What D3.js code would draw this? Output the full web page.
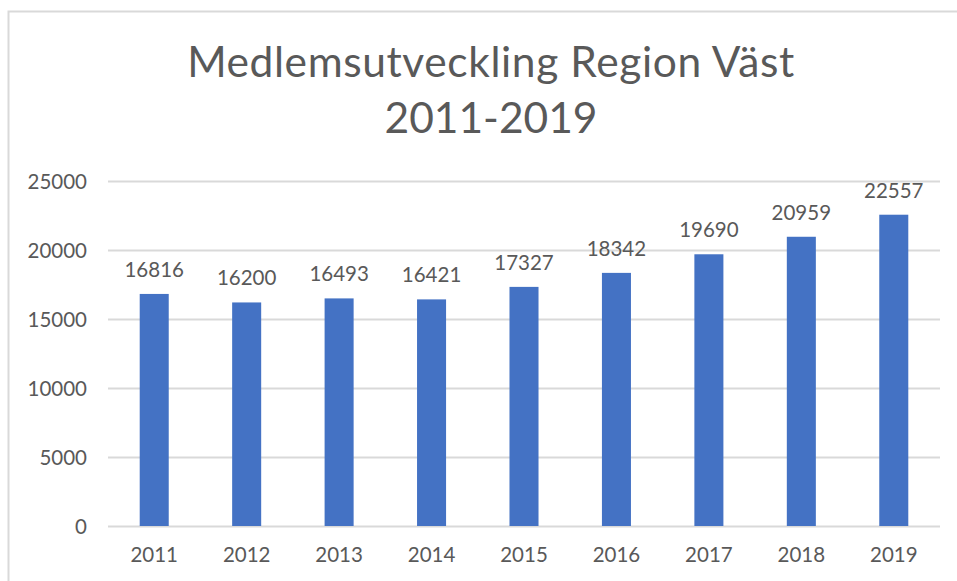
<!DOCTYPE html>
<html>
<head>
<meta charset="utf-8">
<script src="https://cdn.jsdelivr.net/npm/d3@7"></script>
<style>
    body { margin: 0; background: #fff; }
    svg text { font-family: Lato, "Open Sans", sans-serif; fill: #595959; }
</style>
</head>
<body>
<div id="chart"></div>
<script>
// data
let years = ['2011', '2012', '2013', '2014', '2015', '2016', '2017', '2018', '2019'];
let members = [16816, 16200, 16493, 16421, 17327, 18342, 19690, 20959, 22557];
let yTicks = [0, 5000, 10000, 15000, 20000, 25000];
let titleLines = ['Medlemsutveckling Region Väst', '2011-2019'];

let width = 957;
let height = 581;
let plot = {left: 108, right: 940, top: 181, bottom: 526};

let svg = d3.select('#chart').append('svg')
    .attr('width', width)
    .attr('height', height);

// chart border (only top and left are visible in the picture)
svg.append('rect')
    .attr('x', 8.5)
    .attr('y', 11.5)
    .attr('width', width + 20)
    .attr('height', height + 20)
    .attr('fill', '#fff')
    .attr('stroke', '#d9d9d9')
    .attr('stroke-width', 2);

// title
svg.append('g')
    .selectAll('text')
    .data(titleLines)
    .enter().append('text')
    .attr('x', 491)
    .attr('y', function (d, i) { return 77 + i * 56; })
    .attr('text-anchor', 'middle')
    .style('font-size', '42.5px')
    .style('letter-spacing', function (d, i) { return i === 0 ? '0.6px' : '0px'; })
    .text(function (d) { return d; });

let x = d3.scaleBand()
    .domain(years)
    .range([plot.left, plot.right])
    .paddingInner(0.686)
    .paddingOuter(0.343);

let y = d3.scaleLinear()
    .domain([0, 25000])
    .range([plot.bottom, plot.top]);

// gridlines + y labels
let yAxis = svg.append('g')
    .attr('transform', 'translate(' + plot.left + ',0)')
    .call(d3.axisLeft(y)
        .tickValues(yTicks)
        .tickFormat(d3.format('d'))
        .tickSize(-(plot.right - plot.left))
        .tickPadding(21));
yAxis.select('.domain').remove();
yAxis.selectAll('.tick line').attr('stroke', '#d9d9d9').attr('stroke-width', 2);
yAxis.selectAll('.tick text')
    .attr('fill', '#595959')
    .attr('dy', '0.36em')
    .style('font-size', '20.5px')
    .style('font-family', 'Lato, sans-serif');

// x labels
let xAxis = svg.append('g')
    .attr('transform', 'translate(0,' + plot.bottom + ')')
    .call(d3.axisBottom(x).tickSize(0).tickPadding(21));
xAxis.select('.domain').remove();
xAxis.selectAll('.tick text')
    .attr('fill', '#595959')
    .style('font-size', '20.5px')
    .style('font-family', 'Lato, sans-serif');

let data = years.map(function (d, i) {
    return {year: d, value: members[i]};
});

// bars
svg.selectAll('.bar')
    .data(data)
    .enter().append('rect')
    .attr('class', 'bar')
    .attr('x', function (d) { return x(d.year); })
    .attr('y', function (d) { return y(d.value); })
    .attr('width', x.bandwidth())
    .attr('height', function (d) { return plot.bottom - y(d.value); })
    .attr('fill', '#4472c4');

// value labels
svg.selectAll('.label')
    .data(data)
    .enter().append('text')
    .attr('class', 'label')
    .attr('x', function (d) { return x(d.year) + x.bandwidth() / 2; })
    .attr('y', function (d) { return y(d.value) - 17; })
    .attr('text-anchor', 'middle')
    .style('font-size', '20.5px')
    .text(function (d) { return d.value; });
</script>
</body>
</html>
